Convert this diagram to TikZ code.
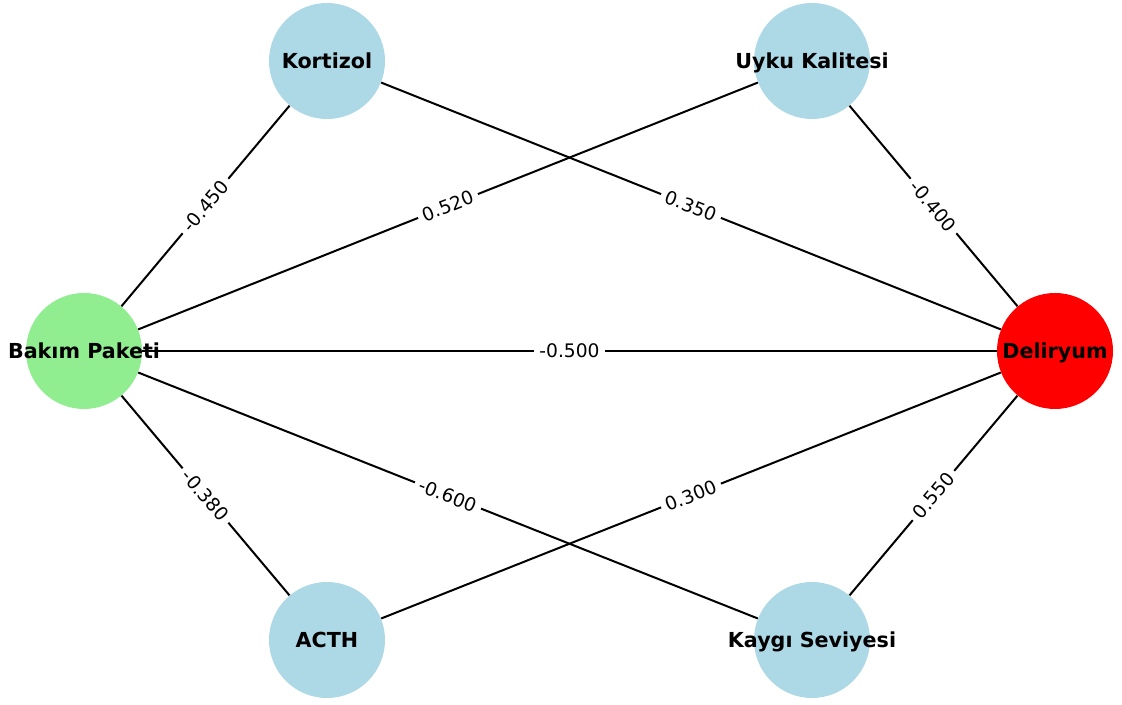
\documentclass[tikz,border=0pt]{standalone}
\usepackage{fontspec}
\setmainfont{DejaVu Sans}
\usetikzlibrary{positioning, backgrounds}
\definecolor{factorBlue}{RGB}{173, 216, 230}
\definecolor{packageGreen}{RGB}{144, 238, 144}
\definecolor{outcomeRed}{RGB}{255, 0, 0}

\begin{document}
\begin{tikzpicture}[x=0.75pt, y=-0.75pt,
        factor/.style={circle, minimum size=87pt, inner sep=0pt, fill=factorBlue},
        every label/.append style={font=\fontsize{15.5}{18}\selectfont\bfseries, text height=11.6pt, text depth=0pt},
        link/.style={line width=1.5pt, black},
        weight/.style={fill=white, inner xsep=4pt, inner ysep=2pt, sloped, font=\fontsize{14}{16}\selectfont}]
    \useasboundingbox (0,0) rectangle (1122,705);

    % nodes
    \node[factor, fill=packageGreen, label=center:{Bakım Paketi}] (bakim) at (84,351) {};
    \node[factor, label=center:{Kortizol}] (kortizol) at (327,61) {};
    \node[factor, label=center:{Uyku Kalitesi}] (uyku) at (812,61) {};
    \node[factor, label=center:{ACTH}] (acth) at (327,640) {};
    \node[factor, label=center:{Kaygı Seviyesi}] (kaygi) at (812,640) {};
    \node[factor, fill=outcomeRed, label=center:{Deliryum}] (deliryum) at (1055,351) {};

    % edges with weights
    \begin{scope}[on background layer]
        \draw[link] (bakim) -- node[weight] {-0.450} (kortizol);
        \draw[link] (bakim) -- node[weight] {0.520} (uyku);
        \draw[link] (bakim) -- node[weight] {-0.500} (deliryum);
        \draw[link] (bakim) -- node[weight] {-0.380} (acth);
        \draw[link] (bakim) -- node[weight] {-0.600} (kaygi);
        \draw[link] (kortizol) -- node[weight] {0.350} (deliryum);
        \draw[link] (uyku) -- node[weight] {-0.400} (deliryum);
        \draw[link] (acth) -- node[weight] {0.300} (deliryum);
        \draw[link] (kaygi) -- node[weight] {0.550} (deliryum);
    \end{scope}
\end{tikzpicture}
\end{document}
